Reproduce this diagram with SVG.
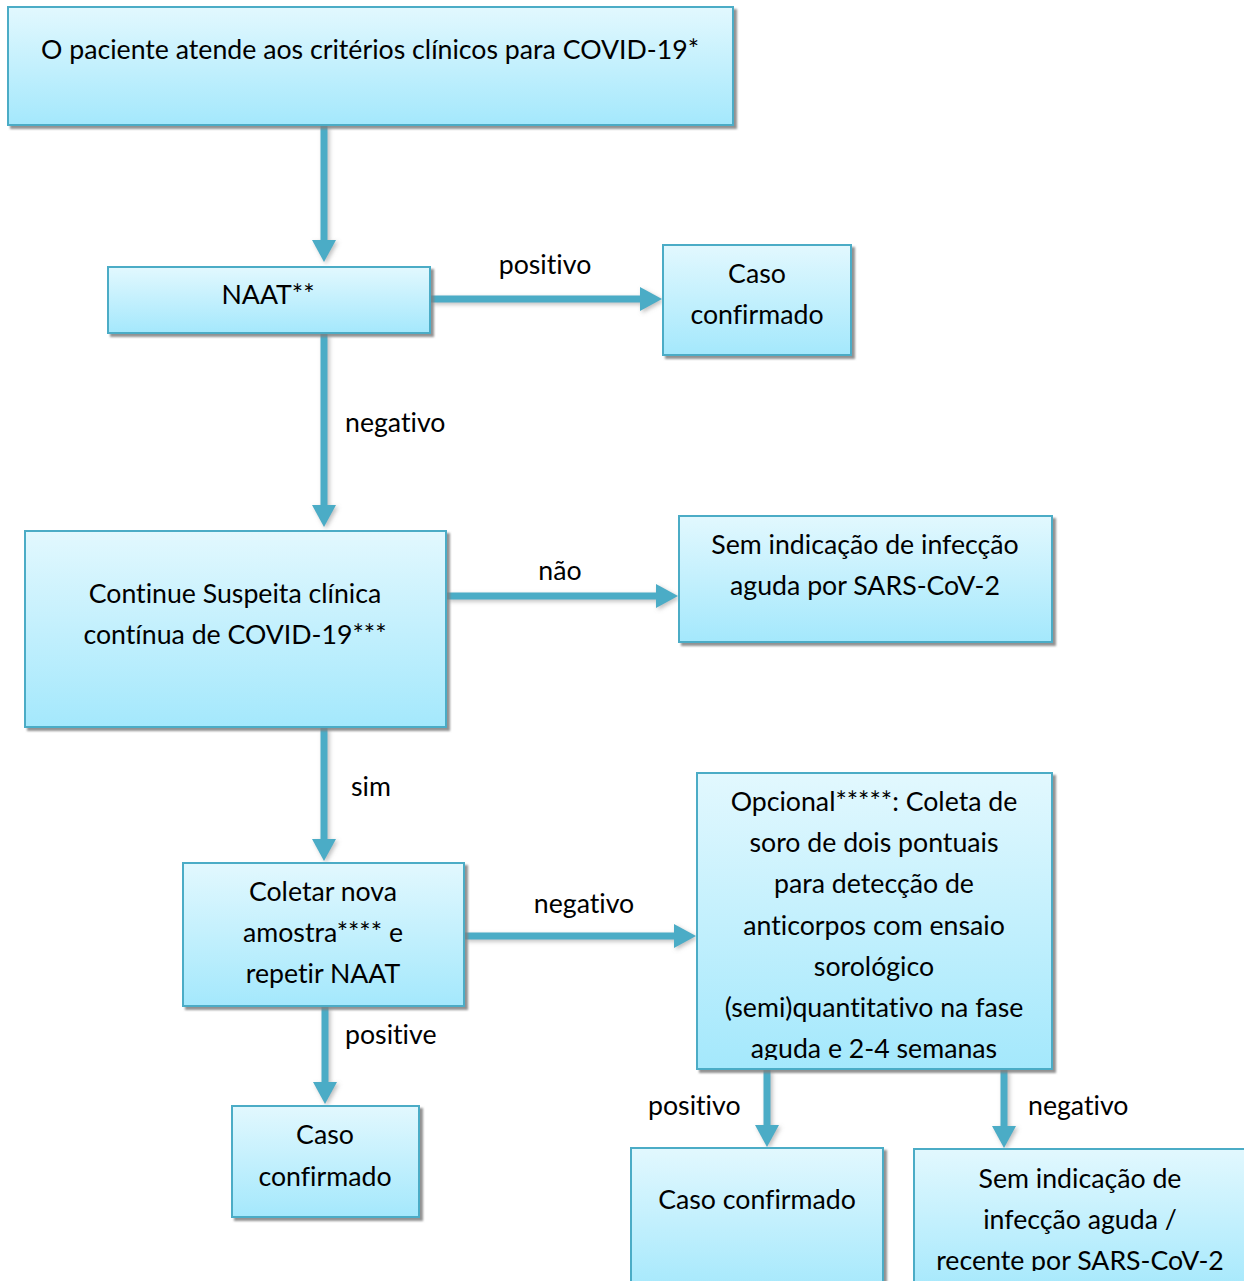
<svg xmlns="http://www.w3.org/2000/svg" width="1244" height="1281" viewBox="0 0 1244 1281">
<style>
.box{fill:url(#g);stroke:#4bacc6;stroke-width:2;filter:url(#sh)}
.t{font-family:Lato,"Liberation Sans",sans-serif;font-size:26.7px;fill:#000;text-anchor:middle;font-variant-ligatures:none}
.l{font-family:Lato,"Liberation Sans",sans-serif;font-size:26.7px;fill:#000;font-variant-ligatures:none}
.c{stroke:#4bacc6;stroke-width:7;fill:none;marker-end:url(#ah)}
</style>
<defs>
<linearGradient id="g" x1="0" y1="0" x2="0" y2="1">
<stop offset="0" stop-color="#e2f8fe"/>
<stop offset="1" stop-color="#a4e8fc"/>
</linearGradient>
<filter id="sh" x="-5%" y="-5%" width="115%" height="120%">
<feDropShadow dx="3" dy="3" stdDeviation="1" flood-color="#7f7f7f" flood-opacity="0.85"/>
</filter>
<filter id="ash" x="-20%" y="-20%" width="140%" height="140%">
<feDropShadow dx="2" dy="2" stdDeviation="2" flood-color="#7f7f7f" flood-opacity="0.5"/>
</filter>
<marker id="ah" markerUnits="userSpaceOnUse" markerWidth="24" markerHeight="26" viewBox="0 0 22 26" refX="0" refY="13" orient="auto">
<path d="M0,1 L22,13 L0,25 Z" fill="#4bacc6"/>
</marker>
<clipPath id="cp1"><rect x="697" y="773" width="355" height="287"/></clipPath>
<clipPath id="cp2"><rect x="914" y="1149" width="330" height="122"/></clipPath>
</defs>

<g id="connectors" filter="url(#ash)">
<line class="c" x1="324" y1="126" x2="324" y2="240"/>
<line class="c" x1="431" y1="299" x2="640" y2="299"/>
<line class="c" x1="324" y1="334" x2="324" y2="505"/>
<line class="c" x1="447" y1="596" x2="656" y2="596"/>
<line class="c" x1="324" y1="728" x2="324" y2="839"/>
<line class="c" x1="465" y1="936" x2="674" y2="936"/>
<line class="c" x1="325" y1="1007" x2="325" y2="1082"/>
<line class="c" x1="767" y1="1070" x2="767" y2="1125"/>
<line class="c" x1="1004" y1="1070" x2="1004" y2="1126"/>
</g>

<g id="labels">
<text class="t" x="545" y="274">positivo</text>
<text class="l" x="345" y="432">negativo</text>
<text class="t" x="560" y="580">não</text>
<text class="l" x="351" y="796">sim</text>
<text class="t" x="584" y="913">negativo</text>
<text class="l" x="345" y="1044">positive</text>
<text class="l" x="648" y="1115">positivo</text>
<text class="l" x="1028" y="1115">negativo</text>
</g>

<g id="n1">
<rect class="box" x="8" y="7" width="725" height="118"/>
<text class="t" x="370" y="59">O paciente atende aos critérios clínicos para COVID-19*</text>
</g>
<g id="n2">
<rect class="box" x="108" y="267" width="322" height="66"/>
<text class="t" x="268" y="304">NAAT**</text>
</g>
<g id="n3">
<rect class="box" x="663" y="245" width="188" height="110"/>
<text class="t" x="757" y="283">Caso</text>
<text class="t" x="757" y="324">confirmado</text>
</g>
<g id="n4">
<rect class="box" x="25" y="531" width="421" height="196"/>
<text class="t" x="235" y="603">Continue Suspeita clínica</text>
<text class="t" x="235" y="644">contínua de COVID-19***</text>
</g>
<g id="n5">
<rect class="box" x="679" y="516" width="373" height="126"/>
<text class="t" x="865" y="554">Sem indicação de infecção</text>
<text class="t" x="865" y="595">aguda por SARS-CoV-2</text>
</g>
<g id="n6">
<rect class="box" x="183" y="863" width="281" height="143"/>
<text class="t" x="323" y="901">Coletar nova</text>
<text class="t" x="323" y="942">amostra**** e</text>
<text class="t" x="323" y="983">repetir NAAT</text>
</g>
<g id="n7">
<rect class="box" x="697" y="773" width="355" height="296"/>
<g clip-path="url(#cp1)">
<text class="t" x="874" y="811">Opcional*****: Coleta de</text>
<text class="t" x="874" y="852">soro de dois pontuais</text>
<text class="t" x="874" y="893">para detecção de</text>
<text class="t" x="874" y="935">anticorpos com ensaio</text>
<text class="t" x="874" y="976">sorológico</text>
<text class="t" x="874" y="1017">(semi)quantitativo na fase</text>
<text class="t" x="874" y="1058">aguda e 2-4 semanas</text>
</g>
</g>
<g id="n8">
<rect class="box" x="232" y="1106" width="187" height="111"/>
<text class="t" x="325" y="1144">Caso</text>
<text class="t" x="325" y="1186">confirmado</text>
</g>
<g id="n9">
<rect class="box" x="631" y="1148" width="252" height="145"/>
<text class="t" x="757" y="1209">Caso confirmado</text>
</g>
<g id="n10">
<rect class="box" x="914" y="1149" width="345" height="145"/>
<g clip-path="url(#cp2)">
<text class="t" x="1080" y="1188">Sem indicação de</text>
<text class="t" x="1080" y="1229">infecção aguda /</text>
<text class="t" x="1080" y="1270">recente por SARS-CoV-2</text>
</g>
</g>
</svg>
